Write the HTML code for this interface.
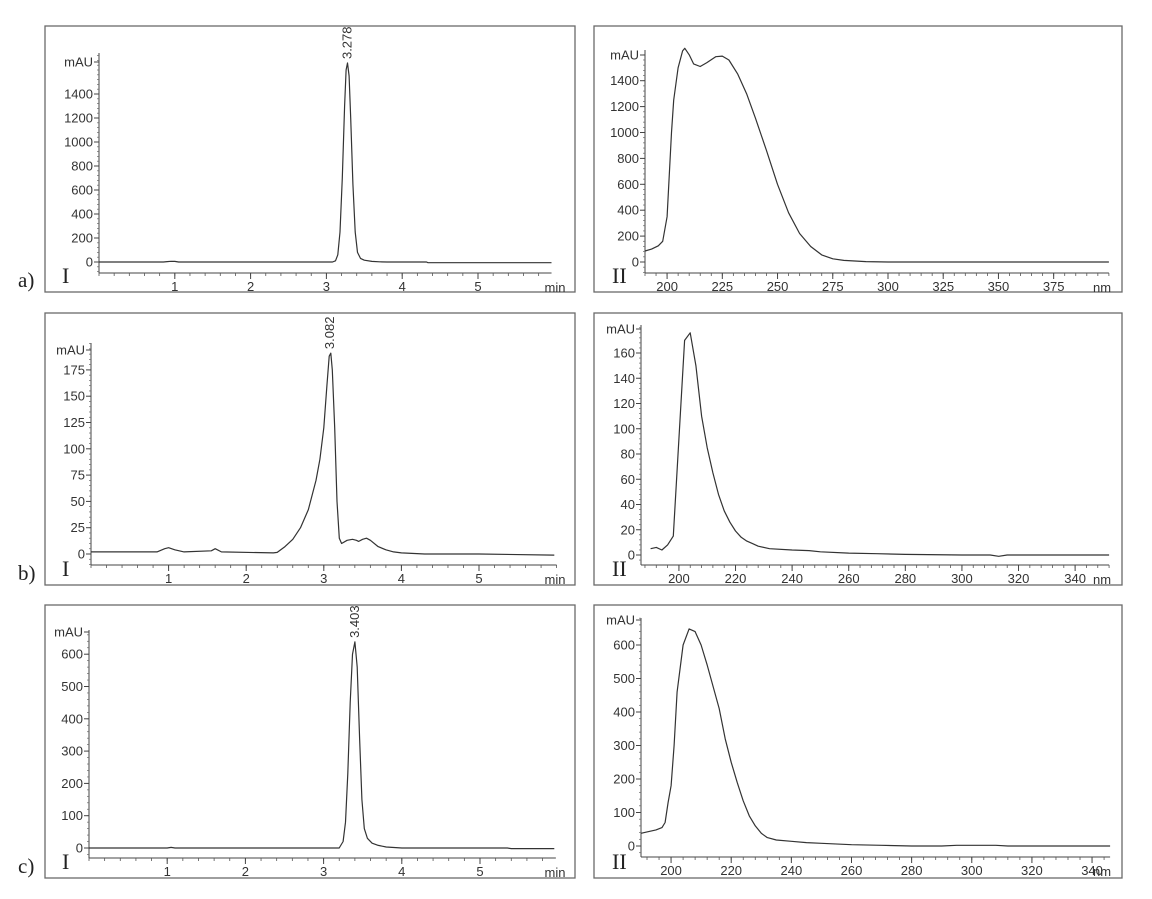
<!DOCTYPE html>
<html><head><meta charset="utf-8"><style>
html,body{margin:0;padding:0;background:#fff;}
svg{display:block;font-family:"Liberation Sans",sans-serif;}
.tl{font-size:13px;fill:#333;}
.rn{font-family:"Liberation Serif",serif;font-size:22px;fill:#222;}
.lt{font-family:"Liberation Serif",serif;font-size:21px;fill:#222;}
</style></head><body>
<svg id="fig" width="1152" height="899" viewBox="0 0 1152 899"></svg>
<script>
// ---- Data: chromatogram a (time, mAU)
const aTime=[0,0.85,0.9,0.95,1.0,1.05,3.08,3.12,3.15,3.18,3.21,3.24,3.26,3.278,3.30,3.32,3.35,3.38,3.41,3.45,3.5,3.6,3.7,3.8,4.32,4.34,5.97];
const aVal=[0,0,3,6,5,0,0,10,60,250,700,1300,1600,1658,1550,1200,650,250,80,30,15,5,2,0,0,-6,-6];
// chromatogram b
const bTime=[0,0.85,0.95,1.0,1.08,1.2,1.55,1.6,1.68,2.35,2.4,2.5,2.6,2.7,2.8,2.9,2.95,3.0,3.04,3.07,3.09,3.11,3.14,3.17,3.2,3.23,3.3,3.37,3.42,3.45,3.5,3.55,3.6,3.7,3.8,3.9,4.0,4.3,5.0,5.97];
const bVal=[2,2,5,6,4,2,3,5,2,1,1.5,7,14,25,42,70,90,120,160,188,191,175,120,50,15,10,13,14,13,12,14,15,13,7,4,2,1,0,0,-1];
// chromatogram c
const cTime=[0,1.0,1.05,1.1,3.2,3.25,3.28,3.31,3.34,3.37,3.40,3.43,3.46,3.49,3.52,3.56,3.62,3.7,3.8,4.0,5.35,5.4,5.95];
const cVal=[0,0,2,0,0,20,80,230,450,600,638,560,340,150,60,30,15,8,3,0,0,-2,-2];
// spectrum a (nm, mAU)
const aNm=[190,193,196,198,200,202,203,205,207,208,210,212,215,218,222,225,228,232,236,240,245,250,255,260,265,270,275,280,290,300,400];
const aAbs=[85,100,125,160,350,1000,1250,1500,1630,1650,1600,1530,1510,1540,1585,1590,1560,1450,1300,1110,860,600,380,220,120,55,25,12,3,0,0];
// spectrum b
const bNm=[190,192,194,196,198,202,204,206,208,210,212,214,216,218,220,222,224,226,228,232,240,246,250,260,270,280,300,310,313,316,320,352];
const bAbs=[5,6,4,8,15,170,176,150,110,85,65,48,35,26,19,14,11,9,7,5,4,3.5,2.5,1.5,1,0.5,0,0,-1,0,0,0];
// spectrum c
const cNm=[190,192,195,197,198,199,200,201,202,204,206,208,210,212,214,216,218,220,222,224,226,228,230,232,235,240,245,250,260,270,280,290,295,308,312,346];
const cAbs=[38,42,48,55,70,130,180,300,460,600,648,640,600,540,475,410,320,250,190,135,90,60,38,25,18,14,10,8,4,2,0,0,2,2,0,0];
// tick labels
const aTimeTicks=[1,2,3,4,5];
const bTimeTicks=[1,2,3,4,5];
const cTimeTicks=[1,2,3,4,5];
const aYTicks=[0,200,400,600,800,1000,1200,1400];
const bYTicks=[0,25,50,75,100,125,150,175];
const cYTicks=[0,100,200,300,400,500,600];
const aNmTicks=[200,225,250,275,300,325,350,375];
const bNmTicks=[200,220,240,260,280,300,320,340];
const cNmTicks=[200,220,240,260,280,300,320,340];
const aYTicksII=[0,200,400,600,800,1000,1200,1400];
const bYTicksII=[0,20,40,60,80,100,120,140,160];
const cYTicksII=[0,100,200,300,400,500,600];
const peakLabels=["3.278","3.082","3.403"];
const peakTimes=[3.278,3.082,3.403];
const peakHeights=[1658,191,638];

const NS="http://www.w3.org/2000/svg";
const svg=document.getElementById('fig');
function mk(tag,attrs,parent){const e=document.createElementNS(NS,tag);for(const k in attrs)e.setAttribute(k,attrs[k]);(parent||svg).appendChild(e);return e;}

function panel(g,cfg,xs,ys,xt,yt,xunit,roman,minorX,minorY){
  const X=v=>cfg.x0+(v-cfg.xmin)*cfg.px;
  const Y=v=>cfg.y0-v*cfg.py;
  const box=mk('rect',{x:cfg.bx,y:cfg.by,width:cfg.bw,height:cfg.bh,fill:'none',stroke:'#6a6a6a','stroke-width':1.3},g);
  
  
  const ax=X(cfg.xmin), axEnd=X(cfg.xmax);
  const ya=mk('line',{x1:ax,y1:cfg.ytop,x2:ax,y2:cfg.xaxis,stroke:'#444','stroke-width':1},g);
  
  
  const xa=mk('line',{x1:ax,y1:cfg.xaxis,x2:axEnd,y2:cfg.xaxis,stroke:'#444','stroke-width':1},g);
  
  
  const ymaxV=(cfg.y0-cfg.ytop)/cfg.py;
  for(let v=Math.ceil(-((cfg.xaxis-cfg.y0)/cfg.py)/minorY)*minorY; v<=ymaxV; v+=minorY){
    mk('line',{x1:ax-2,y1:Y(v),x2:ax,y2:Y(v),stroke:'#666','stroke-width':0.7},g);
  }
  yt.forEach(v=>{
    mk('line',{x1:ax-5,y1:Y(v),x2:ax,y2:Y(v),stroke:'#444','stroke-width':1},g);
    const t=mk('text',{x:ax-6,y:Y(v)+4.5,'text-anchor':'end',class:'tl'},g);t.textContent=v;
    
    
  });
  const mau=mk('text',{x:ax-6,y:cfg.mauY+4.5,'text-anchor':'end',class:'tl'},g);mau.textContent='mAU';
  
  
  mk('line',{x1:ax-5,y1:cfg.mauY,x2:ax,y2:cfg.mauY,stroke:'#444','stroke-width':1},g);
  for(let v=Math.ceil(cfg.xmin/minorX)*minorX; v<=cfg.xmax+1e-9; v+=minorX){
    mk('line',{x1:X(v),y1:cfg.xaxis,x2:X(v),y2:cfg.xaxis+3,stroke:'#555','stroke-width':0.8},g);
  }
  xt.forEach(v=>{
    mk('line',{x1:X(v),y1:cfg.xaxis,x2:X(v),y2:cfg.xaxis+6,stroke:'#444','stroke-width':1},g);
    const t=mk('text',{x:X(v),y:cfg.xaxis+18,'text-anchor':'middle',class:'tl'},g);t.textContent=v;
    
    
  });
  const u=mk('text',{x:cfg.unitX,y:cfg.xaxis+19,'text-anchor':'middle',class:'tl'},g);u.textContent=xunit;
  
  
  const r=mk('text',{x:cfg.bx+(roman==='I'?17:18),y:cfg.by+cfg.bh-9,class:'rn'},g);r.textContent=roman;
  
  
  const pts=xs.map((v,i)=>X(v).toFixed(1)+','+Y(ys[i]).toFixed(1)).join(' ');
  const pl=mk('polyline',{points:pts,fill:'none',stroke:'#333','stroke-width':1.2,'stroke-linejoin':'round'},g);
  
  
  return {X,Y};
}

const rows=[{by:26,bh:266},{by:313,bh:272},{by:605,bh:273}];
const letters=['a)','b)','c)'];
const chrom=[[aTime,aVal,aTimeTicks,aYTicks],[bTime,bVal,bTimeTicks,bYTicks],[cTime,cVal,cTimeTicks,cYTicks]];
const spec=[[aNm,aAbs,aNmTicks,aYTicksII],[bNm,bAbs,bNmTicks,bYTicksII],[cNm,cAbs,cNmTicks,cYTicksII]];
const cfgI=[
 {x0:99,xmin:0,xmax:5.97,px:75.8,y0:262,py:0.12,ytop:53,mauY:62,xaxis:273,unitX:555,minY:40},
 {x0:91,xmin:0,xmax:6.0,px:77.6,y0:554,py:1.052,ytop:343,mauY:350,xaxis:565,unitX:555,minY:5},
 {x0:89,xmin:0,xmax:5.97,px:78.2,y0:848,py:0.323,ytop:630,mauY:632,xaxis:858,unitX:555,minY:20}
];
const cfgII=[
 {x0:645,xmin:190,xmax:400,px:2.209,y0:262,py:0.1295,ytop:50,mauY:55,xaxis:273,unitX:1102,minY:40,minX:5},
 {x0:641,xmin:186.6,xmax:352,px:2.83,y0:555,py:1.2625,ytop:325,mauY:329,xaxis:565,unitX:1102,minY:4,minX:4},
 {x0:641,xmin:190,xmax:346,px:3.007,y0:846,py:0.335,ytop:618,mauY:620,xaxis:857,unitX:1102,minY:20,minX:4}
];
for(let i=0;i<3;i++){
  const g1=mk('g',{});
  
  
  const c=Object.assign({bx:45,bw:530},rows[i],cfgI[i]);
  const s=panel(g1,c,chrom[i][0],chrom[i][1],chrom[i][2],chrom[i][3],'min','I',0.2,c.minY);
  const px=s.X(peakTimes[i]), py=s.Y(peakHeights[i]);
  const pt=mk('text',{x:0,y:0,class:'tl',transform:`translate(${px+4},${py-4}) rotate(-90)`},g1);
  pt.textContent=peakLabels[i];
  
  
  const lt=mk('text',{x:18,y:rows[i].by+rows[i].bh-5,class:'lt'});lt.textContent=letters[i];
  
  
  const g2=mk('g',{});
  
  
  const c2=Object.assign({bx:594,bw:528},rows[i],cfgII[i]);
  panel(g2,c2,spec[i][0],spec[i][1],spec[i][2],spec[i][3],'nm','II',c2.minX,c2.minY);
}
</script>
</body></html>
